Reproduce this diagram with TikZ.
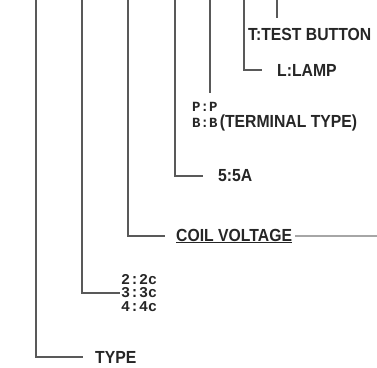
\documentclass[tikz,border=0pt]{standalone}
\usepackage{fontspec}
\setmainfont{Liberation Mono}
\newfontfamily\lblfont{Liberation Sans}[FakeStretch=0.9]
\usepackage{xcolor}

\begin{document}
\begin{tikzpicture}[
    x=1pt, y=-1pt,
    font=\lblfont\fontsize{17.5}{17.5}\selectfont\bfseries,
    lbl/.style={anchor=west, inner sep=0pt, text=black!85},
    lead/.style={draw=black!65, line width=1.6pt},
    tail/.style={draw=black!35, line width=1.2pt}
]
    \useasboundingbox (0,0) rectangle (377,367);

    % Coordinates
    \coordinate (top_type) at (36, 0);
    \coordinate (top_poles) at (82, 0);
    \coordinate (top_coil) at (128, 0);
    \coordinate (top_amp) at (175, 0);
    \coordinate (top_term) at (210, 0);
    \coordinate (top_lamp) at (244, 0);
    \coordinate (top_test) at (277, 0);
    \coordinate (coil_end) at (377, 236);

    % Labels
    \node[lbl] (type) at (95, 357) {TYPE};
    \node[lbl, align=left, font=\fontsize{15}{13.5}\selectfont\bfseries] (poles) at (121, 293) {2:2c\\3:3c\\4:4c};
    \node[lbl] (coil) at (176, 236) {\underline{COIL VOLTAGE}};
    \node[lbl] (amp) at (218, 176) {5:5A};
    \node[lbl, align=left, font=\fontsize{14}{15.5}\selectfont\bfseries] (pb) at (192, 115) {P:P\\B:B};
    \node[lbl, anchor=base west] (term) at ([xshift=2pt]pb.base east) {(TERMINAL TYPE)};
    \node[lbl] (lamp) at (277, 70) {L:LAMP};
    \node[lbl] (test) at (248, 34) {T:TEST\ BUTTON};

    % Leaders
    \draw[lead, shorten >=12pt] (top_type) |- (type.west);
    \draw[lead, shorten >=1pt] (top_poles) |- (poles.west);
    \draw[lead, shorten >=11pt] (top_coil) |- (coil.west);
    \draw[lead, shorten >=15pt] (top_amp) |- (amp.west);
    \draw[lead, shorten >=9pt] (top_term) -- (top_term |- pb.north);
    \draw[lead, shorten >=15pt] (top_lamp) |- (lamp.west);
    \draw[lead, shorten >=10pt] (top_test) -- (top_test |- test.north);
    \draw[tail] ([xshift=3pt]coil.east) -- (coil_end);

\end{tikzpicture}
\end{document}
